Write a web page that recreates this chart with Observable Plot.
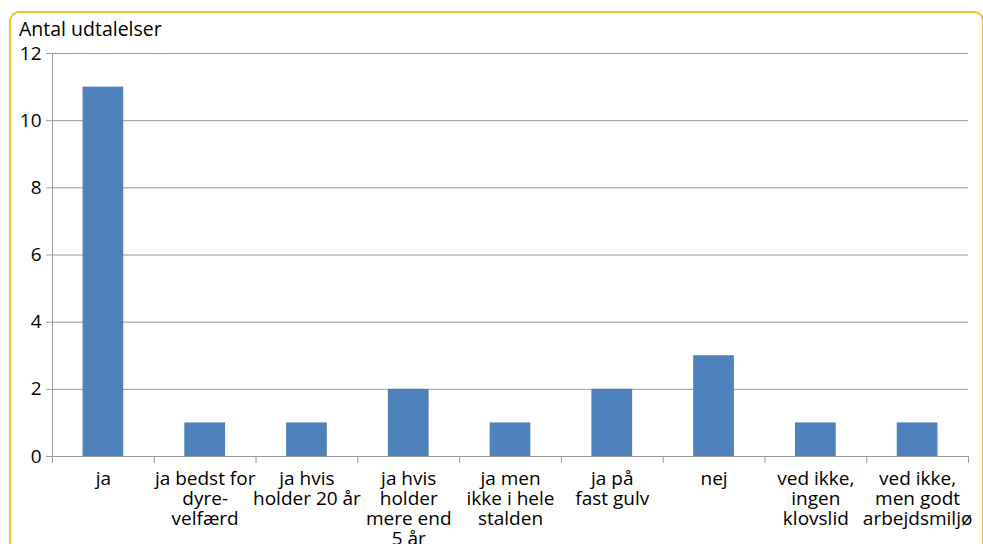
<!DOCTYPE html>
<html>
<head>
<meta charset="utf-8">
<script src="https://cdn.jsdelivr.net/npm/d3@7"></script>
<script src="https://cdn.jsdelivr.net/npm/@observablehq/plot@0.6"></script>
<style>
  html, body { margin: 0; padding: 0; background: #fff; }
  #wrap { position: relative; width: 983px; height: 544px; overflow: hidden; font-family: "Open Sans", Lato, sans-serif; }
  #frame { position: absolute; left: 9px; top: 11px; width: 975px; height: 560px; border: 2px solid #E2C72E; border-radius: 10px; box-sizing: border-box; }
  #title { position: absolute; left: 19px; top: 19px; font-size: 19.5px; line-height: 20px; color: #000; }
  #chart { position: absolute; left: 0; top: 0; }
</style>
</head>
<body>
<div id="wrap">
  <div id="frame"></div>
  <div id="chart"></div>
  <div id="title">Antal udtalelser</div>
</div>
<script>
const categories = [
  "ja",
  "ja bedst for\ndyre-\nvelfærd",
  "ja hvis\nholder 20 år",
  "ja hvis\nholder\nmere end\n5 år",
  "ja men\nikke i hele\nstalden",
  "ja på\nfast gulv",
  "nej",
  "ved ikke,\ningen\nklovslid",
  "ved ikke,\nmen godt\narbejdsmiljø"
];
const values = [11, 1, 1, 2, 1, 2, 3, 1, 1];
const yTicks = [0, 2, 4, 6, 8, 10, 12];

const data = categories.map((c, i) => ({cat: c, idx: i, value: values[i]}));
const boundaries = d3.range(categories.length + 1);

const chart = Plot.plot({
  width: 983,
  height: 544,
  marginLeft: 52,
  marginRight: 15,
  marginTop: 53,
  marginBottom: 88,
  style: {fontFamily: "'Open Sans', Lato, sans-serif", fontSize: "19px", background: "transparent", color: "#000"},
  x: {domain: [0, categories.length], axis: null},
  y: {domain: [0, 12], axis: null},
  marks: [
    Plot.gridY(yTicks, {stroke: "#9a9a9a", strokeOpacity: 1, strokeWidth: 1}),
    Plot.rectY(data, {x1: d => d.idx + 0.3, x2: d => d.idx + 0.7, y1: 0, y2: "value", fill: "#4F81BD"}),
    Plot.axisY(yTicks, {tickSize: 6, stroke: "#9a9a9a", tickPadding: 5, fontSize: 19, fill: "#000", label: null}),
    Plot.ruleX([0], {y1: 0, y2: 12, stroke: "#9a9a9a"}),
    Plot.ruleY([0], {stroke: "#9a9a9a"}),
    Plot.axisX(boundaries, {tickSize: 7, tickFormat: () => "", stroke: "#9a9a9a", label: null}),
    Plot.text(data, {x: d => d.idx + 0.5, y: 0, text: "cat", lineAnchor: "top", dy: 14, lineHeight: 1.06, fontSize: 19, fill: "#000"})
  ]
});
document.getElementById("chart").appendChild(chart);
</script>
</body>
</html>
